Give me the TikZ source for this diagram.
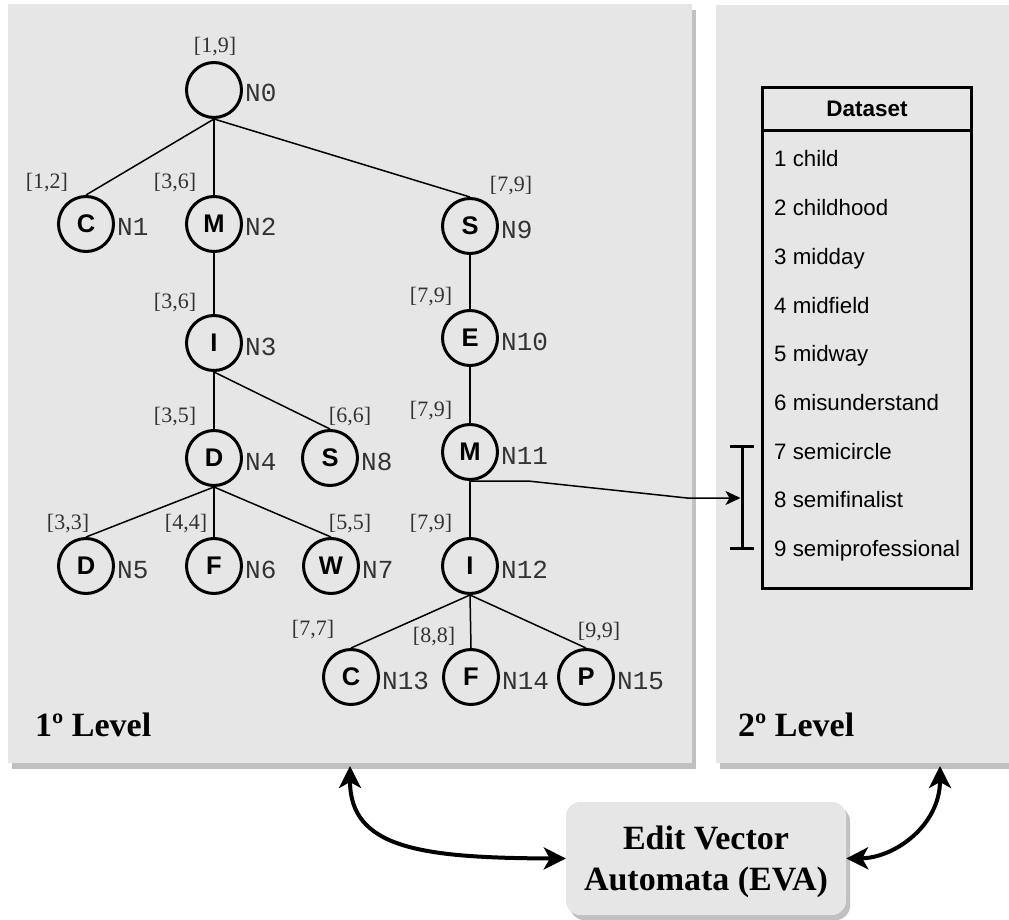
\documentclass[tikz,border=0pt]{standalone}
\usepackage{fontspec}
\setmainfont{Liberation Serif}
\newfontfamily\arialf{Liberation Sans}
\newfontfamily\courf{Liberation Mono}
\usetikzlibrary{arrows.meta,shadows}

\definecolor{panelgray}{HTML}{E6E6E6}
\definecolor{shadegray}{HTML}{C0C0C0}
\definecolor{inkgray}{HTML}{333333}

\begin{document}
\begin{tikzpicture}[x=1pt,y=-1pt,
  panel/.style={rectangle, fill=panelgray, draw=none, inner sep=0pt, outer sep=0pt,
    anchor=north west,
    drop shadow={shadow xshift=4pt, shadow yshift=-6pt, fill=shadegray, opacity=1}},
  st/.style={circle, draw, line width=3pt, minimum size=55pt, inner sep=0pt,
    font=\arialf\bfseries\fontsize{25.5}{25.5}\selectfont},
  nid/.style={anchor=base west, inner sep=0pt, text=inkgray,
    font=\courf\fontsize{26}{26}\selectfont},
  ivl/.style={inner sep=0pt, text=inkgray, font=\fontsize{22}{22}\selectfont},
  edge/.style={line width=1.5pt},
  lvl/.style={anchor=base west, inner sep=0pt, font=\bfseries\fontsize{34}{34}\selectfont},
  dsitem/.style={anchor=base west, inner sep=0pt, font=\arialf\fontsize{22.3}{22.3}\selectfont},
  bigarrow/.style={line width=4pt,
    {Stealth[length=22pt,width=22pt,inset=6pt]}-{Stealth[length=22pt,width=22pt,inset=6pt]}},
]
\useasboundingbox (0,0) rectangle (1009,920);

% ---------- level panels ----------
\node[panel, minimum width=684pt, minimum height=759pt] (lvl1) at (8,4) {};
\node[panel, minimum width=300pt, minimum height=758pt] (lvl2) at (716,5) {};
\node[lvl] (lvl1t) at (35,736) {1º Level};
\node[lvl] (lvl2t) at (738,736) {2º Level};

% ---------- trie nodes ----------
\node[st] (n0)  at (214,90)  {};
\node[st] (n1)  at (86,224)  {C};
\node[st] (n2)  at (214,224) {M};
\node[st] (n9)  at (470,226) {S};
\node[st] (n3)  at (214,343) {I};
\node[st] (n10) at (470,338) {E};
\node[st] (n4)  at (214,458) {D};
\node[st] (n8)  at (330,458) {S};
\node[st] (n11) at (470,452) {M};
\node[st] (n5)  at (86,566)  {D};
\node[st] (n6)  at (214,566) {F};
\node[st] (n7)  at (331,566) {W};
\node[st] (n12) at (470,566) {I};
\node[st] (n13) at (351,677) {C};
\node[st] (n14) at (471,677) {F};
\node[st] (n15) at (586,677) {P};

% node identifiers
\foreach \n/\t in {n0/N0,n1/N1,n2/N2,n3/N3,n4/N4,n5/N5,n6/N6,n7/N7,n8/N8,
                   n9/N9,n10/N10,n11/N11,n12/N12,n13/N13,n14/N14,n15/N15}
  \node[nid] (id\n) at ([xshift=2pt,yshift=-12pt]\n.east) {\t};

% interval labels
\node[ivl] (iv0)  at (215,47)  {[1,9]};
\node[ivl] (iv1)  at (47,183)  {[1,2]};
\node[ivl] (iv2)  at (175,183) {[3,6]};
\node[ivl] (iv9)  at (511,186) {[7,9]};
\node[ivl] (iv3)  at (175,303) {[3,6]};
\node[ivl] (iv10) at (431,297) {[7,9]};
\node[ivl] (iv4)  at (175,417) {[3,5]};
\node[ivl] (iv8)  at (350,417) {[6,6]};
\node[ivl] (iv11) at (431,411) {[7,9]};
\node[ivl] (iv5)  at (68,524)  {[3,3]};
\node[ivl] (iv6)  at (186,524) {[4,4]};
\node[ivl] (iv7)  at (350,524) {[5,5]};
\node[ivl] (iv12) at (431,524) {[7,9]};
\node[ivl] (iv13) at (313,630) {[7,7]};
\node[ivl] (iv14) at (434,637) {[8,8]};
\node[ivl] (iv15) at (599,632) {[9,9]};

% trie edges
\foreach \a/\b in {n0/n1,n0/n2,n0/n9,n2/n3,n3/n4,n3/n8,n4/n5,n4/n6,n4/n7,
                   n9/n10,n10/n11,n11/n12,n12/n13,n12/n14,n12/n15}
  \draw[edge] (\a.south) -- (\b.north);

% ---------- dataset table ----------
\node[draw, line width=3pt, rectangle, inner sep=0pt, outer sep=0pt,
      minimum width=209pt, minimum height=501pt, anchor=north west] (ds) at (762.5,87.5) {};
\draw[line width=3pt] ([yshift=-43.5pt]ds.north west) -- ([yshift=-43.5pt]ds.north east);
\node[inner sep=0pt, font=\arialf\bfseries\fontsize{22.5}{22.5}\selectfont] (dshead) at (867,109) {Dataset};
\node[dsitem] (w1) at (774,167)   {1 child};
\node[dsitem] (w2) at (774,215.5) {2 childhood};
\node[dsitem] (w3) at (774,264)   {3 midday};
\node[dsitem] (w4) at (774,313)   {4 midfield};
\node[dsitem] (w5) at (774,361)   {5 midway};
\node[dsitem] (w6) at (774,410)   {6 misunderstand};
\node[dsitem] (w7) at (774,459)   {7 semicircle};
\node[dsitem] (w8) at (774,507)   {8 semifinalist};
\node[dsitem] (w9) at (774,556)   {9 semiprofessional};

% range bracket over entries 7..9
\coordinate (brt) at (742,446);
\coordinate (brb) at (742,548);
\coordinate (brk) at (740.5,498);
\draw[line width=3pt] (brt) -- (brb);
\draw[line width=3pt] ([xshift=-12pt]brt) -- ([xshift=12pt]brt);
\draw[line width=3pt] ([xshift=-12pt]brb) -- ([xshift=12pt]brb);

% link from the prefix node to its range
\draw[edge, -{Stealth[length=15pt,width=14pt,inset=4pt]}]
  (n11.south) -- (528,481) -- (687,498) -- (brk);

% ---------- EVA ----------
\node[rectangle, rounded corners=14pt, fill=panelgray, inner sep=0pt,
      minimum width=280pt, minimum height=113pt, align=center, text depth=0pt,
      font=\bfseries\fontsize{34}{41}\selectfont,
      drop shadow={shadow xshift=4pt, shadow yshift=-5pt, fill=shadegray, opacity=1}]
  (eva) at (706,858.5) {Edit Vector\\Automata (EVA)};

\coordinate (a1) at (350,766);
\coordinate (a2) at (940,766);
\draw[bigarrow] (a1) .. controls (350,848) and (420,858) .. (eva.west);
\draw[bigarrow] (eva.east) .. controls (895,858) and (940,825) .. (a2);
\end{tikzpicture}
\end{document}
